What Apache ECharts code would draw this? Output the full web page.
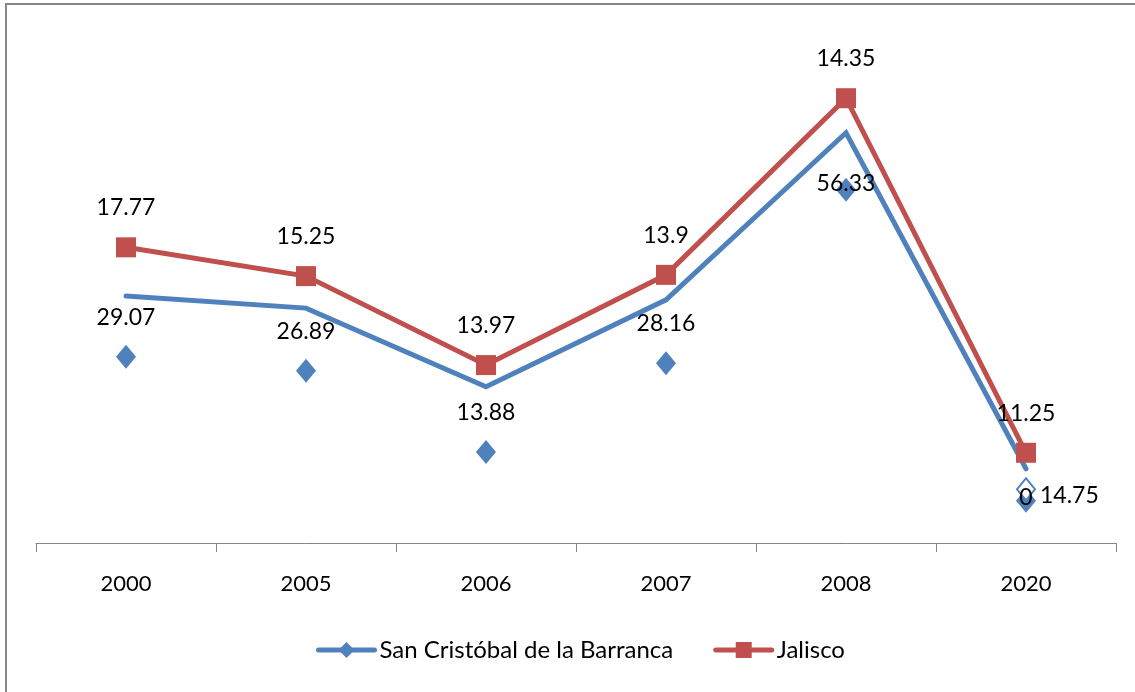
<!DOCTYPE html>
<html>
<head>
<meta charset="utf-8">
<script src="https://cdn.jsdelivr.net/npm/echarts@6/dist/echarts.min.js"></script>
<style>
  html, body { margin: 0; padding: 0; background: #fff; }
  #chart { width: 1135px; height: 692px; }
</style>
</head>
<body>
<div id="chart"></div>
<script>
// years on the category axis
var years = ['2000', '2005', '2006', '2007', '2008', '2020'];

// blue line (San Cristóbal de la Barranca)
var blueLine = [38.6, 36.7, 24.4, 38.0, 64.1, 11.6];
// blue diamonds sit below the line in the original
var blueDiamonds = [29.1, 26.9, 14.2, 28.1, 55.2, 6.6];
var blueLabels = ['29.07', '26.89', '13.88', '28.16', '56.33', '14.75'];

// red line (Jalisco)
var redLine = [46.2, 41.7, 27.8, 41.9, 69.5, 14.1];
var redLabels = ['17.77', '15.25', '13.97', '13.9', '14.35', '11.25'];

// stray hollow diamond at 2020 with a "0" label
var hollowPoint = [['2020', 8.4]];
var hollowLabel = '0';

var blue = '#4F81BD';
var red = '#C0504D';
var font = 'Lato, "Open Sans", sans-serif';

var myechart = echarts.init(document.getElementById('chart'));

var diamondData = blueDiamonds.map(function (v, i) {
  var item = { value: [years[i], v], label: { formatter: blueLabels[i] } };
  if (i == 4) {
    // this label sits on top of its diamond in the original
    item.label.offset = [0, 33];
  }
  if (i == 5) {
    item.label.position = 'right';
    item.label.distance = 4;
    item.label.offset = [0, -5];
  }
  return item;
});

var redData = redLine.map(function (v, i) {
  return { value: v, label: { formatter: redLabels[i] } };
});

var option = {
  animation: false,
  graphic: [{
    type: 'rect',
    shape: { x: 6, y: 4, width: 1200, height: 800 },
    style: { fill: 'none', stroke: '#868686', lineWidth: 2 }
  }],
  grid: { left: 36, right: 19, top: 31, bottom: 149 },
  legend: {
    data: ['San Cristóbal de la Barranca', 'Jalisco'],
    bottom: 25,
    left: 311,
    itemWidth: 56,
    itemHeight: 20,
    itemGap: 40,
    lineStyle: { width: 5, cap: 'round' },
    textStyle: { fontFamily: font, fontSize: 24, color: '#000' }
  },
  xAxis: {
    type: 'category',
    data: years,
    boundaryGap: true,
    axisLine: { lineStyle: { color: '#868686', width: 1 } },
    axisTick: { show: true, length: 9, lineStyle: { color: '#868686' } },
    axisLabel: { fontFamily: font, fontSize: 22, color: '#000', margin: 30 }
  },
  yAxis: {
    type: 'value',
    min: 0,
    max: 80,
    show: false
  },
  series: [
    {
      name: 'San Cristóbal de la Barranca',
      type: 'line',
      data: blueLine,
      symbol: 'diamond',
      symbolSize: 20,
      showSymbol: false,
      itemStyle: { color: blue },
      lineStyle: { color: blue, width: 5, cap: 'round', join: 'miter' },
      z: 2
    },
    {
      name: 'Jalisco',
      type: 'line',
      data: redData,
      symbol: 'rect',
      symbolSize: 20,
      itemStyle: { color: red },
      lineStyle: { color: red, width: 5, join: 'miter' },
      label: {
        show: true, position: 'top', distance: 18,
        fontFamily: font, fontSize: 23, color: '#000'
      },
      z: 3
    },
    {
      name: 'San Cristóbal de la Barranca',
      type: 'scatter',
      data: diamondData,
      symbol: 'diamond',
      symbolSize: [20, 24],
      itemStyle: { color: blue, opacity: 1 },
      label: {
        show: true, position: 'top', distance: 16,
        fontFamily: font, fontSize: 23, color: '#000'
      },
      z: 4
    },
    {
      name: 'hollow',
      type: 'scatter',
      data: hollowPoint,
      symbol: 'diamond',
      symbolSize: [18, 22],
      itemStyle: { color: '#fff', borderColor: blue, borderWidth: 2, opacity: 1 },
      label: {
        show: true, position: 'inside', offset: [0, 8], formatter: hollowLabel,
        fontFamily: font, fontSize: 23, color: '#000'
      },
      z: 5
    }
  ]
};

myechart.setOption(option);
</script>
</body>
</html>
